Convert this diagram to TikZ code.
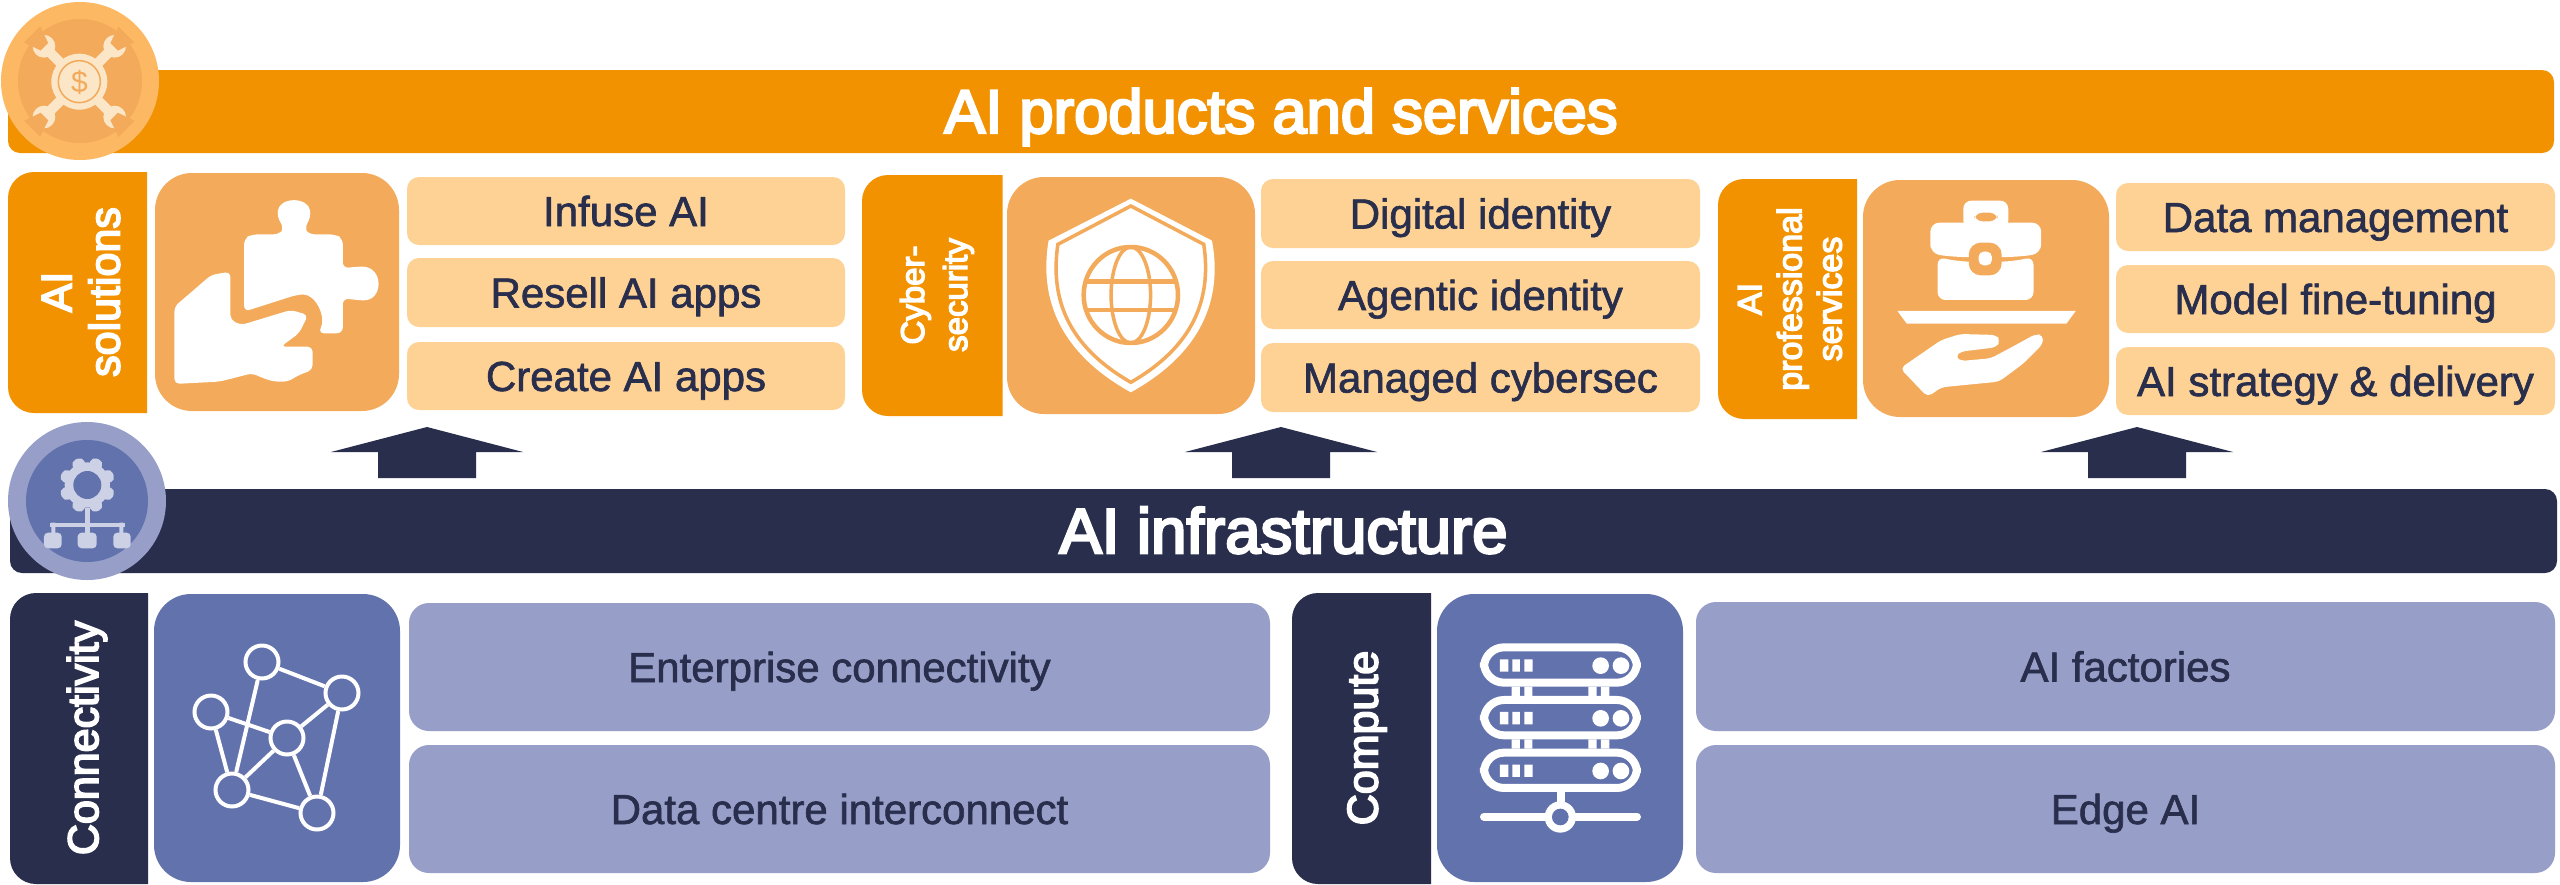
\documentclass[tikz,border=0pt]{standalone}
\usepackage{fontspec}
\setmainfont{Liberation Sans}
\newfontfamily\medfont[FakeBold=4]{Liberation Sans}
\newfontfamily\itemfont[FakeBold=1.5]{Liberation Sans}
\definecolor{orangeA}{HTML}{F39200}
\definecolor{orangeT}{HTML}{F3AA5A}
\definecolor{orangeI}{HTML}{FDD294}
\definecolor{orangeC}{HTML}{FDB863}
\definecolor{cream}{HTML}{FCE6C8}
\definecolor{navy}{HTML}{282E4C}
\definecolor{blueT}{HTML}{6272AD}
\definecolor{blueI}{HTML}{979FC9}
\definecolor{gearC}{HTML}{CDD1E5}
\tikzset{
  x=1pt,y=-1pt,
  oitem/.style={fill=orangeI,rounded corners=12pt},
  bitem/.style={fill=blueI,rounded corners=20pt},
  otile/.style={fill=orangeT,rounded corners=37pt},
  btile/.style={fill=blueT,rounded corners=37pt},
  itemtxt/.style={pos=.5,inner sep=0pt,text=navy,font=\itemfont\fontsize{42}{42}\selectfont,text height=30pt,text depth=0pt},
  vtxt/.style={inner sep=0pt,text=white,rotate=90,align=center},
  bartxt/.style={pos=.5,inner sep=0pt,text=white,text depth=0pt},
  blockarrow/.style={fill=navy},
  netnode/.style={circle,draw=white,line width=4pt,minimum size=33pt,inner sep=0pt},
  netedge/.style={draw=white,line width=4pt}
}
\newcommand{\leftround}[5]{\fill[#5] (#3,#2) [rounded corners=26pt] -- (#1,#2) -- (#1,#4) [sharp corners] -- (#3,#4) -- cycle;}
\newcommand{\upblock}[1]{\fill[blockarrow,shift={(#1,0)}] (0,427) -- (96,452) -- (49,452) -- (49,478) -- (-49,478) -- (-49,452) -- (-96,452) -- cycle;}
\begin{document}
\begin{tikzpicture}
\useasboundingbox (0,0) rectangle (2560,884);
\fill[white] (0,0) rectangle (2560,884);

% top bar
\fill[orangeA,rounded corners=12pt] (8,70) rectangle (2554,153) node[bartxt,text height=43pt,font=\medfont\fontsize{61.5}{61.5}\selectfont] (title) {AI products and services};

% group 1
\leftround{8}{172}{147}{413}{orangeA}
\node[vtxt,font=\medfont\fontsize{43}{48}\selectfont] (l1) at (81,292) {AI\\solutions};
\fill[otile] (155,173) rectangle (399,411);
\fill[oitem] (407,177) rectangle (845,245) node[itemtxt] (a1) {Infuse AI};
\fill[oitem] (407,258) rectangle (845,327) node[itemtxt] (a2) {Resell AI apps};
\fill[oitem] (407,342) rectangle (845,410) node[itemtxt] (a3) {Create AI apps};
\begin{scope}[xscale=0.5485,yscale=0.3333]
  \fill[white,rounded corners=6pt] (445,935) -- (445,715) -- (460,703) -- (510,703) -- (518,685) -- (505,650) .. controls (510,590) and (562,590) .. (567,650) -- (555,685) -- (562,703) -- (610,703) -- (625,715) -- (625,805) -- (650,800) .. controls (700,800) and (700,905) .. (650,900) -- (625,895) -- (625,1000) -- (580,1000) .. controls (595,950) and (575,880) .. (540,885) -- cycle;
  \fill[white,rounded corners=5pt] (318,920) -- (385,825) -- (420,815) -- (420,960) -- (440,975) -- (530,930) -- (562,945) -- (545,1000) -- (512,1040) -- (570,1040) -- (570,1110) -- (545,1125) -- (525,1145) -- (500,1145) -- (480,1135) -- (460,1120) -- (400,1145) -- (318,1152) -- cycle;
\end{scope}

% group 2
\leftround{862}{175}{1002.5}{416}{orangeA}
\node[vtxt,font=\medfont\fontsize{33}{43}\selectfont] (l2) at (937,295) {Cyber-\\security};
\fill[otile] (1007,177) rectangle (1255,414);
\fill[oitem] (1261,179) rectangle (1700,248) node[itemtxt] (b1) {Digital identity};
\fill[oitem] (1261,261) rectangle (1700,329) node[itemtxt] (b2) {Agentic identity};
\fill[oitem] (1261,343) rectangle (1700,412) node[itemtxt] (b3) {Managed cybersec};
\begin{scope}[shift={(850,150)},xscale=0.5485,yscale=0.3333]
  \fill[white] (512,146) -- (660,272) .. controls (680,450) and (640,610) .. (512,727) .. controls (384,610) and (344,450) .. (362,272) -- cycle;
  \draw[orangeT,line width=3.5pt,line join=miter] (512,168) -- (645,283) .. controls (660,450) and (625,590) .. (512,697) .. controls (399,590) and (364,450) .. (379,283) -- cycle;
  \draw[orangeT,line width=4.5pt] (512,435) ellipse [x radius=86,y radius=144];
  \draw[orangeT,line width=3.5pt] (512,435) ellipse [x radius=36,y radius=144];
  \draw[orangeT,line width=4.5pt] (430,395) -- (594,395) (430,480) -- (594,480);
\end{scope}

% group 3
\leftround{1718}{179}{1857}{419}{orangeA}
\node[vtxt,font=\medfont\fontsize{34}{40}\selectfont] (l3) at (1790,299) {AI\\professional\\services};
\fill[otile] (1863,180) rectangle (2109,417);
\fill[oitem] (2116,183) rectangle (2555,251) node[itemtxt] (c1) {Data management};
\fill[oitem] (2116,265) rectangle (2555,333) node[itemtxt] (c2) {Model fine-tuning};
\fill[oitem] (2116,347) rectangle (2555,415) node[itemtxt] (c3) {AI strategy \& delivery};
\begin{scope}[shift={(1700,150)},xscale=0.5485,yscale=0.3333]
  \fill[white,even odd rule,rounded corners=8pt] (480,235) -- (480,152) -- (562,152) -- (562,235) -- cycle (500,188) -- (500,214) -- (543,214) -- (543,188) -- cycle;
  \fill[white,rounded corners=9pt] (420,310) -- (420,218) -- (622,218) -- (622,310) .. controls (570,325) and (470,325) .. (420,310) -- cycle;
  \fill[white,rounded corners=8pt] (433,320) .. controls (480,340) and (560,340) .. (608,320) -- (608,450) -- (433,450) -- cycle;
  \fill[orangeT,rounded corners=12pt] (490,278) rectangle (550,376);
  \fill[white,rounded corners=5pt] (508,305) rectangle (532,346);
  \fill[white] (360,483) -- (685,483) -- (668,521) -- (377,521) -- cycle;
  \fill[white,rounded corners=5pt] (365,655) -- (440,570) -- (475,552) -- (540,555) -- (548,572) -- (540,592) -- (475,605) -- (465,620) -- (475,633) -- (530,625) -- (570,590) -- (612,552) -- (626,556) -- (625,582) -- (590,640) -- (545,695) -- (440,712) -- (415,741) -- cycle;
\end{scope}

% arrows
\upblock{427}
\upblock{1281}
\upblock{2137}

% infrastructure bar
\fill[navy,rounded corners=12pt] (10,489) rectangle (2557,573) node[bartxt,text height=44pt,font=\medfont\fontsize{63.5}{63.5}\selectfont] (infra) {AI infrastructure};

% connectivity
\leftround{10}{593}{148}{884}{navy}
\node[vtxt,font=\medfont\fontsize{43}{43}\selectfont] (l4) at (87,738) {Connectivity};
\fill[btile] (154,594) rectangle (400,882);
\fill[bitem] (409,603) rectangle (1270,731) node[itemtxt] (d1) {Enterprise connectivity};
\fill[bitem] (409,745) rectangle (1270,873) node[itemtxt] (d2) {Data centre interconnect};
\node[netnode] (n1) at (262,662) {};
\node[netnode] (n2) at (342,693) {};
\node[netnode] (n3) at (211,712) {};
\node[netnode] (n4) at (287,738) {};
\node[netnode] (n5) at (232,790) {};
\node[netnode] (n6) at (317,813) {};
\draw[netedge] (n1) -- (n2) (n1) -- (n5) (n3) -- (n4) (n3) -- (n5) (n2) -- (n4) (n2) -- (n6) (n4) -- (n5) (n4) -- (n6) (n5) -- (n6);

% compute
\leftround{1292}{593}{1431}{884}{navy}
\node[vtxt,font=\medfont\fontsize{43}{43}\selectfont] (l5) at (1367,738) {Compute};
\fill[btile] (1437,594) rectangle (1683,882);
\fill[bitem] (1696,602) rectangle (2555,731) node[itemtxt] (e1) {AI factories};
\fill[bitem] (1696,745) rectangle (2555,873) node[itemtxt] (e2) {Edge AI};
\begin{scope}[shift={(1270,570)},scale=0.3333]
  \foreach \d in {0,158,316}{
    \draw[white,line width=8pt,rounded corners=20pt] (642,232+\d) rectangle (1101,338+\d);
    \fill[white] (690,268+\d) rectangle (715,305+\d) (727,268+\d) rectangle (750,305+\d) (763,268+\d) rectangle (788,305+\d);
    \fill[white] (992,287+\d) circle [radius=25] (1053,287+\d) circle [radius=25];
  }
  \foreach \d in {0,158}{
    \fill[white] (725,350+\d) rectangle (750,378+\d) (763,350+\d) rectangle (787,378+\d) (955,350+\d) rectangle (980,378+\d) (993,350+\d) rectangle (1018,378+\d);
  }
  \fill[white] (860,667) rectangle (885,700);
  \draw[white,line width=8pt,line cap=round] (642,740) -- (1101,740);
  \fill[white] (871,741) circle [radius=47];
  \fill[blueT] (871,741) circle [radius=25];
\end{scope}

% money circle
\fill[orangeC] (80,81) circle [radius=79];
\fill[orangeT] (80,81) circle [radius=62];
\begin{scope}[scale=0.3333]
  \foreach \a in {45,135,225,315}{
    \begin{scope}[shift={(238,245)},rotate=\a]
      \fill[cream] (60,-15) rectangle (135,15);
      \fill[cream] (150,0) circle [radius=34];
      \fill[orangeT] (148,-16) -- (200,-34) -- (200,34) -- (148,16) -- cycle;
    \end{scope}
  }
  \fill[cream] (238,245) circle [radius=84];
  \draw[orangeT,line width=1.5pt] (238,245) circle [radius=63];
\end{scope}
\node[inner sep=0pt,text=orangeT,font=\fontsize{30}{30}\selectfont] (dollar) at (79.5,82) {\$};

% gear circle
\fill[blueI] (87,501) circle [radius=79];
\fill[blueT] (87,501) circle [radius=61];
\begin{scope}[shift={(0,410)},scale=0.3333]
  \foreach \a in {0,45,...,315}{
    \begin{scope}[shift={(262,225)},rotate=\a+22.5]
      \fill[gearC,rounded corners=5pt] (50,-19) rectangle (84,19);
    \end{scope}
  }
  \fill[gearC] (262,225) circle [radius=68];
  \fill[blueT] (262,225) circle [radius=42];
  \fill[gearC] (254,295) rectangle (270,368);
  \fill[gearC] (150,338) rectangle (374,350);
  \fill[gearC] (154,338) rectangle (166,370) (358,338) rectangle (370,370);
  \fill[gearC,rounded corners=4pt] (132,368) rectangle (185,415) (233,368) rectangle (290,415) (340,368) rectangle (392,415);
\end{scope}
\end{tikzpicture}
\end{document}
